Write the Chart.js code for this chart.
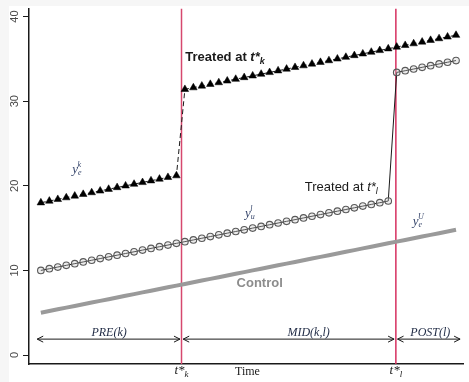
<!DOCTYPE html>
<html>
<head>
<meta charset="utf-8">
<script src="https://cdn.jsdelivr.net/npm/chart.js@4"></script>
<style>
  html, body { margin: 0; padding: 0; background: #fff; }
  canvas { display: block; }
</style>
</head>
<body>
<canvas id="chart" width="469" height="382"></canvas>
<script>
// Time periods
const periods = [1,2,3,4,5,6,7,8,9,10,11,12,13,14,15,16,17,18,19,20,21,22,23,24,25,
                 26,27,28,29,30,31,32,33,34,35,36,37,38,39,40,41,42,43,44,45,46,47,48,49,50];

// Group treated at t*k (early)
const treatedEarly = [18.0,18.2,18.4,18.6,18.8,19.0,19.2,19.4,19.6,19.8,20.0,20.2,20.4,20.6,20.8,21.0,21.2,
                      31.4,31.6,31.8,32.0,32.2,32.4,32.6,32.8,33.0,33.2,33.4,33.6,33.8,34.0,34.2,34.4,34.6,
                      34.8,35.0,35.2,35.4,35.6,35.8,36.0,36.2,36.4,36.6,36.8,37.0,37.2,37.4,37.6,37.8];

// Group treated at t*l (late)
const treatedLate = [10.0,10.2,10.4,10.6,10.8,11.0,11.2,11.4,11.6,11.8,12.0,12.2,12.4,12.6,12.8,13.0,13.2,
                     13.4,13.6,13.8,14.0,14.2,14.4,14.6,14.8,15.0,15.2,15.4,15.6,15.8,16.0,16.2,16.4,16.6,
                     16.8,17.0,17.2,17.4,17.6,17.8,18.0,18.2,
                     33.4,33.6,33.8,34.0,34.2,34.4,34.6,34.8];

// Untreated control group
const control = [5.0,5.2,5.4,5.6,5.8,6.0,6.2,6.4,6.6,6.8,7.0,7.2,7.4,7.6,7.8,8.0,8.2,8.4,8.6,8.8,
                 9.0,9.2,9.4,9.6,9.8,10.0,10.2,10.4,10.6,10.8,11.0,11.2,11.4,11.6,11.8,12.0,12.2,12.4,
                 12.6,12.8,13.0,13.2,13.4,13.6,13.8,14.0,14.2,14.4,14.6,14.8];

// Treatment dates and their subscripts
const treatTimes = [17.6, 42.9];
const treatTimeLabels = ['k', 'l'];

// Y axis ticks
const yTicks = [0, 10, 20, 30, 40];

// Comparison windows
const windowNames = ['PRE(k)', 'MID(k,l)', 'POST(l)'];
const windowStart = [0.57, 17.8, 43.1];
const windowEnd = [17.42, 42.69, 50.48];

const pts = (ys) => periods.map((t, i) => ({ x: t, y: ys[i] }));

const SANS = '"Liberation Sans", Arial, sans-serif';
const SERIF = '"Liberation Serif", "Times New Roman", serif';
const Y_MIN = -1.06, Y_MAX = 40.94;

// Light frame behind the plot
const backdrop = {
  id: 'backdrop',
  beforeDraw(chart) {
    const ctx = chart.ctx;
    ctx.save();
    ctx.fillStyle = '#f6f6f6';
    ctx.fillRect(0, 0, chart.width, chart.height);
    ctx.fillStyle = '#ffffff';
    ctx.fillRect(9, 6, chart.width - 9, chart.height - 6);
    ctx.restore();
  }
};

function drawRich(ctx, x, y, parts, align) {
  let w = 0;
  for (const p of parts) { ctx.font = p.font; w += ctx.measureText(p.text).width; }
  let cx = align === 'center' ? x - w / 2 : x;
  for (const p of parts) {
    ctx.font = p.font;
    ctx.fillStyle = p.color;
    ctx.fillText(p.text, cx, y + (p.dy || 0));
    cx += ctx.measureText(p.text).width;
  }
}

function drawSymbol(ctx, x, y, sup, sub, color) {
  ctx.fillStyle = color;
  ctx.font = 'italic 13px ' + SERIF;
  ctx.fillText('y', x, y);
  const w = ctx.measureText('y').width;
  ctx.font = 'italic 8px ' + SERIF;
  ctx.fillText(sup, x + w - 0.5, y - 6);
  ctx.fillText(sub, x + w, y + 2);
}

function arrowHead(ctx, x, y, dir) {
  ctx.beginPath();
  ctx.moveTo(x + dir * 6, y - 3);
  ctx.lineTo(x, y);
  ctx.lineTo(x + dir * 6, y + 3);
  ctx.stroke();
}

const annotations = {
  id: 'annotations',
  afterDatasetsDraw(chart) {
    const ctx = chart.ctx;
    const xs = chart.scales.x, ys = chart.scales.y;
    const X = (v) => xs.getPixelForValue(v);
    const Y = (v) => ys.getPixelForValue(v);
    ctx.save();
    ctx.textBaseline = 'alphabetic';

    // Series labels
    drawRich(ctx, X(18.05), Y(34.8), [
      { text: 'Treated at ', font: 'bold 13px ' + SANS, color: '#1a1a1a' },
      { text: 't*', font: 'bold italic 13px ' + SANS, color: '#1a1a1a' },
      { text: 'k', font: 'bold italic 9px ' + SANS, color: '#1a1a1a', dy: 3 }
    ], 'left');
    drawRich(ctx, X(32.15), Y(19.4), [
      { text: 'Treated at ', font: '13px ' + SANS, color: '#1a1a1a' },
      { text: 't*', font: 'italic 13px ' + SANS, color: '#1a1a1a' },
      { text: 'l', font: 'italic 9px ' + SANS, color: '#1a1a1a', dy: 3 }
    ], 'left');
    drawRich(ctx, X(24.1), Y(8.0), [
      { text: 'Control', font: 'bold 13px ' + SANS, color: '#8c8c8c' }
    ], 'left');

    drawSymbol(ctx, X(4.7), Y(21.5), 'k', 'e', '#34446a');
    drawSymbol(ctx, X(25.1), Y(16.35), 'l', 'u', '#34446a');
    drawSymbol(ctx, X(44.9), Y(15.4), 'U', 'e', '#34446a');

    // Window arrows
    ctx.strokeStyle = '#1a1a1a';
    ctx.lineWidth = 1;
    const ay = Y(1.88);
    const labelX = [9.05, 32.6, 46.97];
    for (let i = 0; i < windowNames.length; i++) {
      const x0 = X(windowStart[i]), x1 = X(windowEnd[i]);
      ctx.beginPath();
      ctx.moveTo(x0, ay);
      ctx.lineTo(x1, ay);
      ctx.stroke();
      arrowHead(ctx, x0, ay, 1);
      arrowHead(ctx, x1, ay, -1);
      ctx.textAlign = 'center';
      ctx.font = 'italic 12px ' + SERIF;
      ctx.fillStyle = '#1f2a44';
      ctx.fillText(windowNames[i], X(labelX[i]), ay - 3);
      ctx.textAlign = 'left';
    }

    // Axis labels under the treatment dates
    for (let i = 0; i < treatTimes.length; i++) {
      drawRich(ctx, X(treatTimes[i]), 374, [
        { text: 't*', font: 'italic 13px ' + SERIF, color: '#1a1a1a' },
        { text: treatTimeLabels[i], font: 'italic 9px ' + SERIF, color: '#1a1a1a', dy: 3 }
      ], 'center');
    }
    ctx.textAlign = 'center';
    ctx.font = '12px ' + SERIF;
    ctx.fillStyle = '#1a1a1a';
    ctx.fillText('Time', X(25.38), 375);
    ctx.restore();
  }
};

const vline = (t) => [{ x: t, y: Y_MIN }, { x: t, y: Y_MAX }];

new Chart(document.getElementById('chart'), {
  type: 'scatter',
  data: {
    datasets: [
      {
        data: vline(treatTimes[0]), showLine: true, borderColor: '#d6486e', borderWidth: 1.5,
        pointRadius: 0, order: 6
      },
      {
        data: vline(treatTimes[1]), showLine: true, borderColor: '#d6305f', borderWidth: 1.5,
        pointRadius: 0, order: 6
      },
      {
        data: pts(control), showLine: true, borderColor: '#9a9a9a', borderWidth: 4,
        pointRadius: 0, order: 5
      },
      {
        data: pts(treatedLate), showLine: true, borderColor: '#1a1a1a', borderWidth: 1,
        pointStyle: 'circle', pointRadius: 3.3, pointBorderColor: '#5a5a5a', pointBorderWidth: 1.1,
        pointBackgroundColor: 'rgba(200,200,200,0.35)', order: 4
      },
      {
        data: pts(treatedEarly), showLine: true, borderColor: '#1a1a1a', borderWidth: 1,
        borderDash: [5, 3],
        pointStyle: 'triangle', pointRadius: 4.4, pointBorderColor: '#000', pointBorderWidth: 0.5,
        pointBackgroundColor: '#000', order: 3
      }
    ]
  },
  options: {
    responsive: false,
    animation: false,
    layout: { padding: { top: 8, right: 0, left: 0, bottom: 0 } },
    plugins: { legend: { display: false }, tooltip: { enabled: false } },
    elements: { line: { tension: 0 } },
    scales: {
      x: {
        type: 'linear', min: -0.4, max: 50.93,
        grid: { display: false },
        ticks: { display: false },
        border: { display: true, color: '#1a1a1a', width: 1.5 },
        afterFit: (s) => { s.height = 18; }
      },
      y: {
        type: 'linear', min: Y_MIN, max: Y_MAX,
        afterBuildTicks: (s) => { s.ticks = yTicks.map(v => ({ value: v })); },
        grid: { drawOnChartArea: false, drawTicks: true, tickLength: 6, color: '#1a1a1a', lineWidth: 1 },
        border: { display: true, color: '#1a1a1a', width: 1.5 },
        ticks: {
          minRotation: 90, maxRotation: 90, crossAlign: 'center', padding: 2,
          color: '#4a4a4a', font: { family: SANS, size: 11 },
          callback: (v) => String(v)
        },
        afterFit: (s) => { s.width = 29; }
      }
    }
  },
  plugins: [backdrop, annotations]
});
</script>
</body>
</html>
